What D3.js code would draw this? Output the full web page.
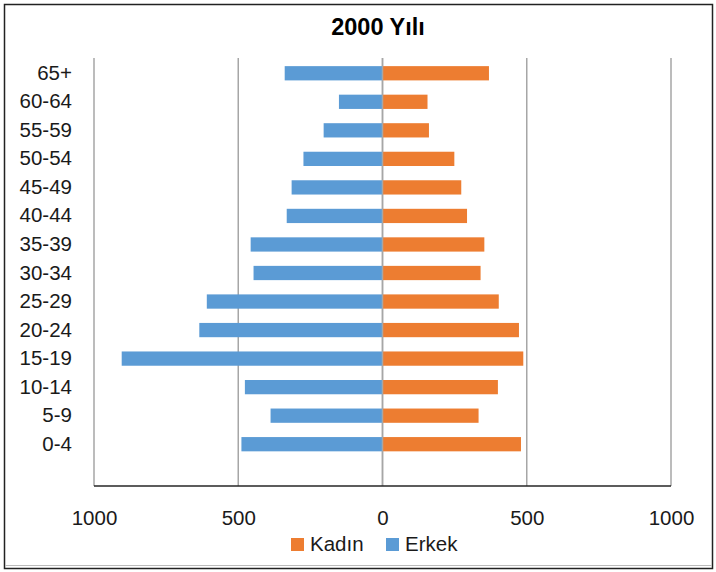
<!DOCTYPE html>
<html>
<head>
<meta charset="utf-8">
<script src="https://cdn.jsdelivr.net/npm/d3@7"></script>
<style>
  html, body { margin: 0; padding: 0; background: #fff; }
  svg { display: block; font-family: "Liberation Sans", Arial, sans-serif; }
</style>
</head>
<body>
<svg id="chart" width="716" height="572"></svg>
<script>
// Data (bottom to top as in the chart)
const ageGroups = ["0-4","5-9","10-14","15-19","20-24","25-29","30-34","35-39","40-44","45-49","50-54","55-59","60-64","65+"];
const kadin = [480, 333, 400, 488, 473, 403, 340, 353, 293, 273, 249, 161, 156, 369];
const erkek = [489, 388, 477, 904, 635, 609, 447, 457, 332, 315, 274, 204, 151, 339];
const xTicks = [-1000, -500, 0, 500, 1000];
const seriesNames = ["Kadın", "Erkek"];
const colors = { "Kadın": "#ED7D31", "Erkek": "#5B9BD5" };
const title = "2000 Yılı";

const svg = d3.select("#chart");
const W = 716, H = 572;
const plot = { left: 94, right: 671, top: 58, bottom: 486 };

// Outer frame
svg.append("rect").attr("x", 4.5).attr("y", 4.5).attr("width", W - 8).attr("height", H - 8)
  .attr("fill", "#fff").attr("stroke", "#222").attr("stroke-width", 1.5);
svg.append("line").attr("x1", 5).attr("x2", W - 4).attr("y1", H - 6.5).attr("y2", H - 6.5)
  .attr("stroke", "#bbb").attr("stroke-width", 1);

const x = d3.scaleLinear().domain([-1000, 1000]).range([plot.left, plot.right]);
// one empty slot at the bottom, as in the original
const yDomain = [""].concat(ageGroups).reverse();
const y = d3.scaleBand().domain(yDomain).range([plot.top + 1, plot.bottom + 1])
  .paddingInner(0.5).paddingOuter(0.25);

// Gridlines
svg.append("g").selectAll("line").data(xTicks).join("line")
  .attr("x1", d => x(d)).attr("x2", d => x(d))
  .attr("y1", plot.top).attr("y2", plot.bottom)
  .attr("stroke", "#a6a6a6").attr("stroke-width", 1.5);

// Bars
const rows = ageGroups.map((g, i) => ({ g, k: kadin[i], e: erkek[i] }));
svg.append("g").selectAll("rect").data(rows).join("rect")
  .attr("x", d => x(-d.e)).attr("y", d => y(d.g))
  .attr("width", d => x(0) - x(-d.e)).attr("height", y.bandwidth())
  .attr("fill", colors["Erkek"]);
svg.append("g").selectAll("rect").data(rows).join("rect")
  .attr("x", x(0)).attr("y", d => y(d.g))
  .attr("width", d => x(d.k) - x(0)).attr("height", y.bandwidth())
  .attr("fill", colors["Kadın"]);

// Zero line on top of bars
svg.append("line").attr("x1", x(0)).attr("x2", x(0)).attr("y1", plot.top).attr("y2", plot.bottom)
  .attr("stroke", "#a6a6a6").attr("stroke-width", 1.5);

// Bottom axis line
svg.append("line").attr("x1", plot.left).attr("x2", plot.right)
  .attr("y1", plot.bottom).attr("y2", plot.bottom)
  .attr("stroke", "#262626").attr("stroke-width", 1.5);

// X tick labels
const xAxis = d3.axisBottom(x).tickValues(xTicks).tickFormat(d => Math.abs(d)).tickSize(0).tickPadding(0);
const gx = svg.append("g").attr("transform", `translate(0, ${plot.bottom + 24})`).call(xAxis);
gx.select(".domain").remove();
gx.selectAll("text").attr("font-size", 20.5).attr("fill", "#1a1a1a")
  .attr("font-family", "'Liberation Sans', Arial, sans-serif").attr("dy", "0.71em");

// Y labels
const yAxis = d3.axisLeft(y).tickValues(ageGroups).tickSize(0).tickPadding(0);
const gy = svg.append("g").attr("transform", `translate(72, 0)`).call(yAxis);
gy.select(".domain").remove();
gy.selectAll("text").attr("font-size", 20.5).attr("fill", "#1a1a1a")
  .attr("font-family", "'Liberation Sans', Arial, sans-serif");

// Title
svg.append("text").attr("x", 378).attr("y", 35).attr("text-anchor", "middle")
  .attr("font-size", 23.5).attr("font-weight", "bold").attr("fill", "#000").text(title);

// Legend
const legendItems = [{ name: seriesNames[0], sx: 291, tx: 310 }, { name: seriesNames[1], sx: 386, tx: 405 }];
const lg = svg.append("g");
legendItems.forEach(it => {
  lg.append("rect").attr("x", it.sx).attr("y", 538).attr("width", 13).attr("height", 13)
    .attr("fill", colors[it.name]);
  lg.append("text").attr("x", it.tx).attr("y", 551).attr("font-size", 20.5)
    .attr("fill", "#1a1a1a").text(it.name);
});
</script>
</body>
</html>
